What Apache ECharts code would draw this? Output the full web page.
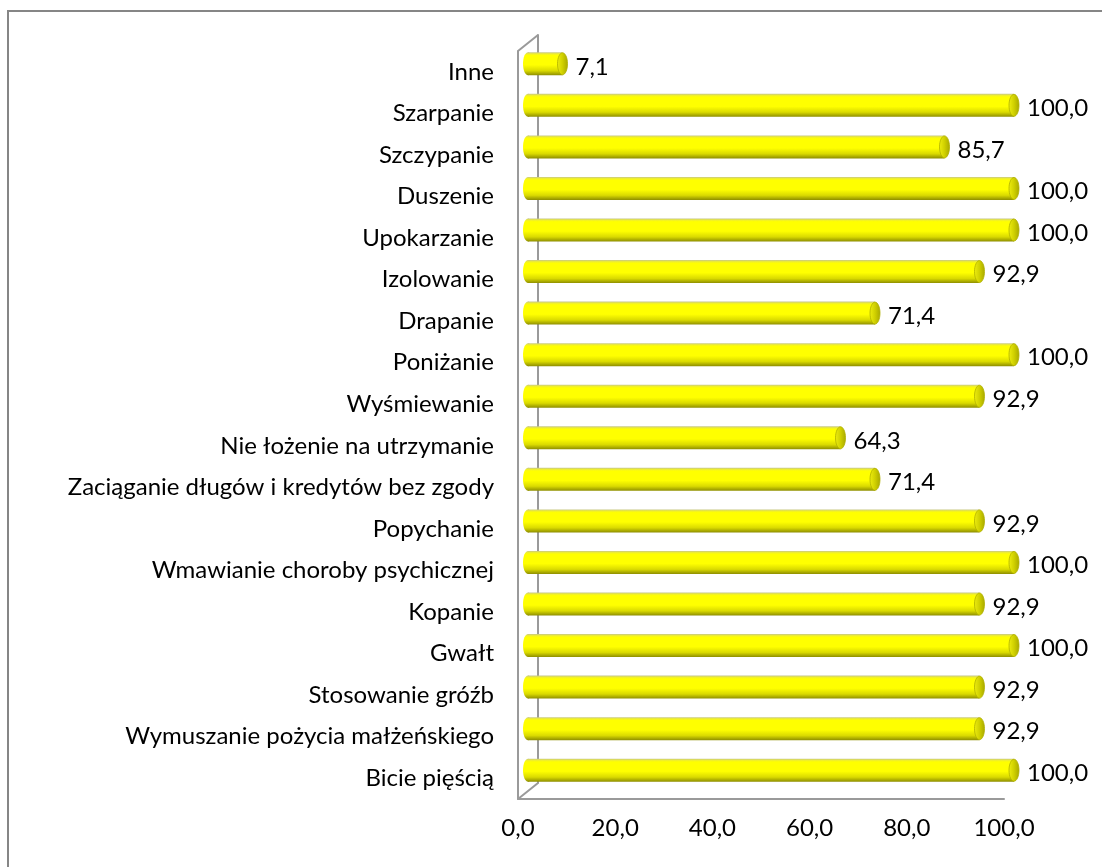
<!DOCTYPE html>
<html>
<head>
<meta charset="utf-8">
<script src="https://cdn.jsdelivr.net/npm/echarts@6/dist/echarts.min.js"></script>
<style>
  html, body { margin: 0; padding: 0; background: #fff; }
  #chart { width: 1102px; height: 867px; }
</style>
</head>
<body>
<div id="chart"></div>
<script>
// categories, bottom to top
var categories = [
  'Bicie pięścią',
  'Wymuszanie pożycia małżeńskiego',
  'Stosowanie gróźb',
  'Gwałt',
  'Kopanie',
  'Wmawianie choroby psychicznej',
  'Popychanie',
  'Zaciąganie długów i kredytów bez zgody',
  'Nie łożenie na utrzymanie',
  'Wyśmiewanie',
  'Poniżanie',
  'Drapanie',
  'Izolowanie',
  'Upokarzanie',
  'Duszenie',
  'Szczypanie',
  'Szarpanie',
  'Inne'
];
var values = [100.0, 92.9, 92.9, 100.0, 92.9, 100.0, 92.9, 71.4, 64.3, 92.9, 100.0, 71.4, 92.9, 100.0, 100.0, 85.7, 100.0, 7.1];
var xTicks = [0, 20, 40, 60, 80, 100];

// layout of the pseudo 3d plot box (middle plane, depth offset)
var plotLeft = 528, plotTop = 43, plotW = 486, plotH = 748;
var depthX = 10, depthY = 8;
var FONT = 'Lato, Carlito, "Open Sans", sans-serif';
var FONT_SIZE = 24;

function fmt(v) { return v.toFixed(1).replace('.', ','); }

var myChart = echarts.init(document.getElementById('chart'));

var barData = values.map(function (v, i) { return [v, i]; });

function renderBar(params, api) {
  var val = api.value(0);
  var cat = api.value(1);
  var start = api.coord([0, cat]);
  var end = api.coord([val, cat]);
  var h = 23, rx = 5;
  var cy = start[1];
  var bodyFill = new echarts.graphic.LinearGradient(0, 0, 0, 1, [
    { offset: 0, color: '#c6c68a' },
    { offset: 0.07, color: '#eeee30' },
    { offset: 0.14, color: '#ffff00' },
    { offset: 0.55, color: '#ffff00' },
    { offset: 0.8, color: '#dada00' },
    { offset: 1, color: '#8e8e00' }
  ]);
  var capFill = new echarts.graphic.LinearGradient(0, 0, 1, 0, [
    { offset: 0, color: '#eeee10' },
    { offset: 0.5, color: '#d0d000' },
    { offset: 1, color: '#a8a800' }
  ]);
  return {
    type: 'group',
    children: [
      { type: 'ellipse', shape: { cx: start[0], cy: cy, rx: rx, ry: h / 2 }, style: { fill: bodyFill } },
      { type: 'rect', shape: { x: start[0], y: cy - h / 2, width: Math.max(end[0] - start[0], 0), height: h }, style: { fill: bodyFill } },
      { type: 'ellipse', shape: { cx: end[0], cy: cy, rx: rx, ry: h / 2 - 0.5 }, style: { fill: capFill, stroke: '#b0b000', lineWidth: 0.8 } },
      { type: 'text', style: { text: fmt(val), x: end[0] + rx + 8, y: cy + 3, verticalAlign: 'middle', font: FONT_SIZE + 'px ' + FONT, fill: '#000' } }
    ]
  };
}

var wallColor = '#9a9a9a';
var option = {
  animation: false,
  backgroundColor: '#fff',
  grid: [
    { left: plotLeft, top: plotTop, width: plotW, height: plotH },
    { left: plotLeft - depthX, top: plotTop + depthY, width: plotW, height: plotH },
    { left: plotLeft + depthX, top: plotTop - depthY, width: plotW, height: plotH }
  ],
  xAxis: [
    { gridIndex: 0, type: 'value', min: 0, max: 100, show: false },
    {
      gridIndex: 1, type: 'value', min: xTicks[0], max: xTicks[xTicks.length - 1], interval: 20,
      axisLine: { show: true, lineStyle: { color: wallColor, width: 2 } },
      axisTick: { show: false },
      splitLine: { show: false },
      axisLabel: { margin: 17, fontSize: FONT_SIZE, fontFamily: FONT, color: '#000', formatter: function (v) { return fmt(v); } }
    },
    { gridIndex: 2, type: 'value', min: 0, max: 100, show: false }
  ],
  yAxis: [
    { gridIndex: 0, type: 'category', data: categories, show: false },
    {
      gridIndex: 1, type: 'category', data: categories,
      axisLine: { show: true, lineStyle: { color: wallColor, width: 2 } },
      axisTick: { show: false },
      axisLabel: { margin: 24, fontSize: FONT_SIZE, fontFamily: FONT, color: '#000' }
    },
    {
      gridIndex: 2, type: 'category', data: categories,
      axisLine: { show: true, lineStyle: { color: wallColor, width: 2 } },
      axisTick: { show: false },
      axisLabel: { show: false }
    }
  ],
  series: [
    {
      type: 'custom',
      xAxisIndex: 0,
      yAxisIndex: 0,
      renderItem: renderBar,
      data: barData,
      z: 5
    }
  ],
  graphic: [
    { type: 'rect', shape: { x: 8, y: 11, width: 1200, height: 900 }, style: { fill: 'none', stroke: '#868686', lineWidth: 2 }, silent: true },
    // depth edges joining front and back walls
    { type: 'line', shape: { x1: plotLeft - depthX, y1: plotTop + depthY, x2: plotLeft + depthX, y2: plotTop - depthY }, style: { stroke: wallColor, lineWidth: 2 } },
    { type: 'line', shape: { x1: plotLeft - depthX, y1: plotTop + depthY + plotH, x2: plotLeft + depthX, y2: plotTop - depthY + plotH }, style: { stroke: wallColor, lineWidth: 2 } }
  ]
};

myChart.setOption(option);
</script>
</body>
</html>
